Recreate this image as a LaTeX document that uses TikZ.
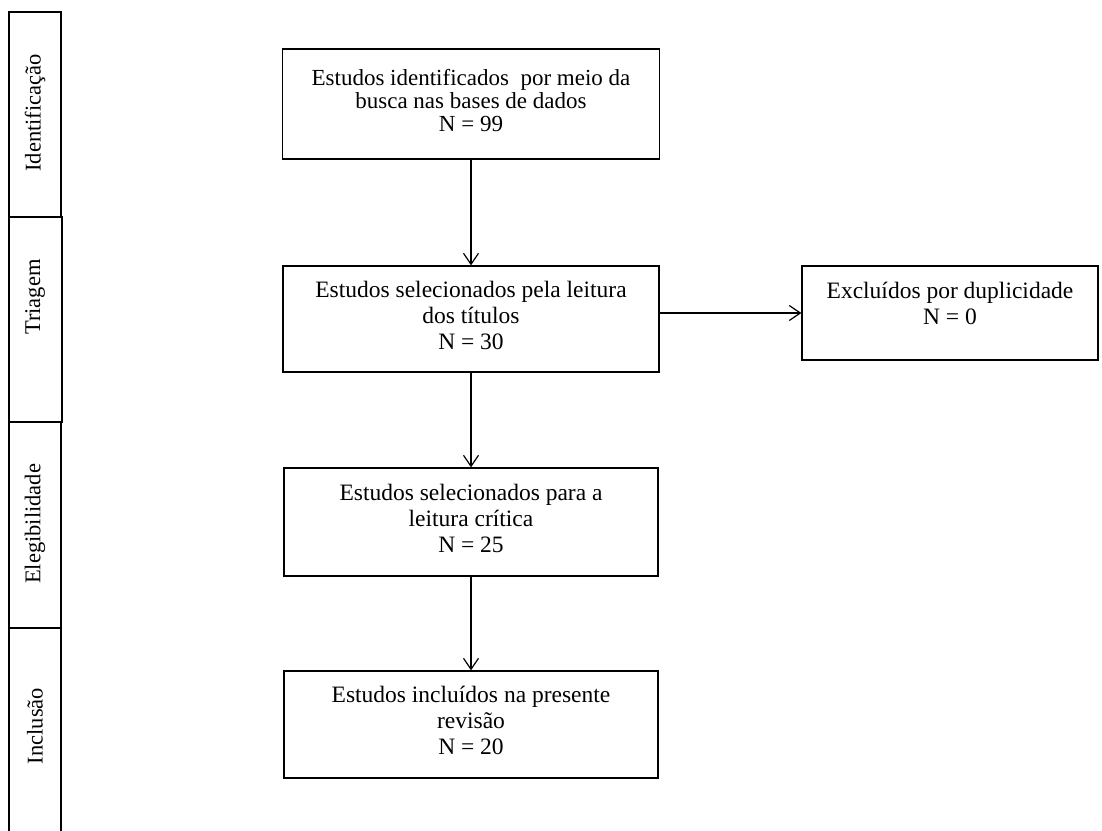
\documentclass[tikz,border=0pt]{standalone}
\usepackage{fontspec}
\setmainfont{Liberation Serif}
\usetikzlibrary{arrows.meta}
\begin{document}
\begin{tikzpicture}[x=1pt,y=-1pt,
  box/.style={draw, line width=1.3pt, inner sep=0pt, align=center, font=\fontsize{23.5}{26}\selectfont},
  lane/.style={draw, line width=1.3pt},
  lanelabel/.style={rotate=90, inner sep=0pt, font=\fontsize{22.5}{26}\selectfont},
  arr/.style={line width=1.2pt, -{Straight Barb[length=11pt,width=15pt,line width=1.2pt]}}]
\useasboundingbox (0,0) rectangle (1102,830);
% lanes
\draw[lane] (9,12) rectangle (61,217);
\draw[lane] (9,217) rectangle (62,422);
\draw[lane] (9,422) rectangle (61,628);
\draw[lane] (9,628) rectangle (61,845);
\node[lanelabel] (lab1) at (35,113) {Identificação};
\node[lanelabel] (lab2) at (35,297) {Triagem};
\node[lanelabel] (lab3) at (35,524) {Elegibilidade};
\node[lanelabel] (lab4) at (35,726) {Inclusão};
% boxes
\node[box, minimum width=377pt, minimum height=110pt, text depth=8pt, font=\fontsize{23}{23}\selectfont] (b1) at (471,104)
  {Estudos identificados\ \ por meio da\\busca nas bases de dados\\N = 99};
\node[box, minimum width=376pt, minimum height=106pt, text depth=8pt] (b2) at (471,319)
  {Estudos selecionados pela leitura\\dos títulos\\N = 30};
\node[box, minimum width=374pt, minimum height=108pt, text depth=8pt] (b3) at (471,522)
  {Estudos selecionados para a\\leitura crítica\\N = 25};
\node[box, minimum width=374pt, minimum height=107pt, text depth=8pt] (b4) at (471,724.5)
  {Estudos incluídos na presente\\revisão\\N = 20};
\node[box, minimum width=296pt, minimum height=94pt, text depth=20pt] (ex) at (950,313)
  {Excluídos por duplicidade\\N = 0};
% connectors
\draw[arr] (b1) -- (b2);
\draw[arr] (b2) -- (b3);
\draw[arr] (b3) -- (b4);
\draw[arr] (b2.east |- ex.west) -- (ex.west);
\end{tikzpicture}
\end{document}
